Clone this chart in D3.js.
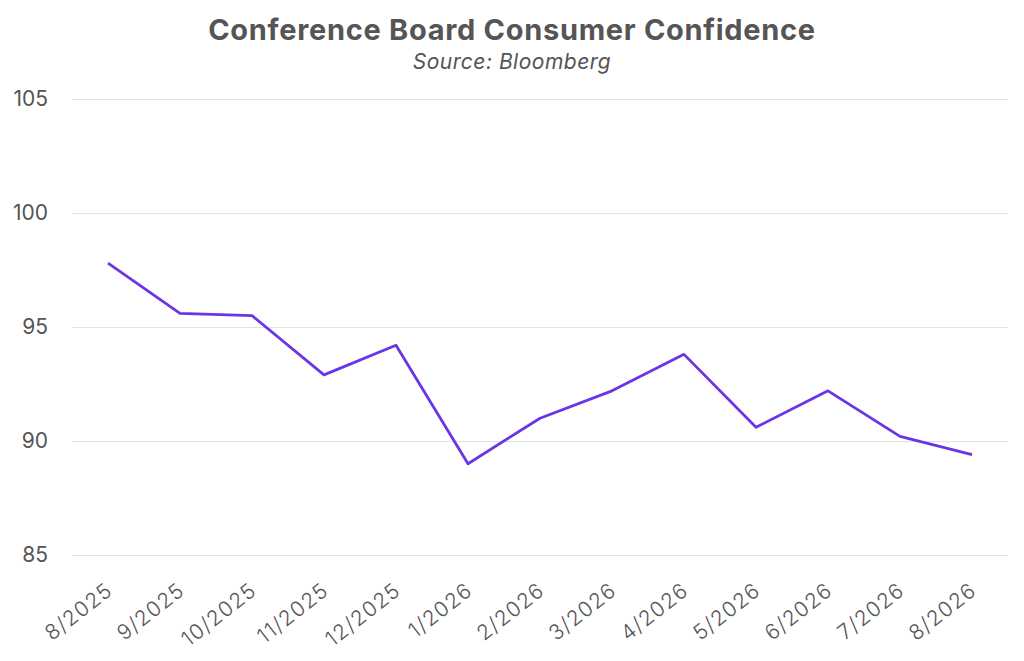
<!DOCTYPE html>
<html>
<head>
<meta charset="utf-8">
<script src="https://cdn.jsdelivr.net/npm/d3@7"></script>
<style>
  body { margin: 0; background: #fff; }
  text { font-family: "Inter", "Lato", sans-serif; fill: #555; }
</style>
</head>
<body>
<div id="chart"></div>
<script>
// Data
const months = ["8/2025", "9/2025", "10/2025", "11/2025", "12/2025", "1/2026", "2/2026",
  "3/2026", "4/2026", "5/2026", "6/2026", "7/2026", "8/2026"];
const confidence = [97.8, 95.6, 95.5, 92.9, 94.2, 89.0, 91.0, 92.2, 93.8, 90.6, 92.2, 90.2, 89.4];
const yTicks = [85, 90, 95, 100, 105];

const W = 1024, H = 661;
const margin = { top: 99, right: 16, bottom: 106, left: 72 };

const svg = d3.select("#chart")
  .append("svg")
  .attr("width", W)
  .attr("height", H);

// Title
svg.append("text")
  .attr("x", 512)
  .attr("y", 40)
  .attr("text-anchor", "middle")
  .style("font-size", "29px")
  .style("font-weight", "700")
  .style("letter-spacing", "0.7px")
  .text("Conference Board Consumer Confidence");

svg.append("text")
  .attr("x", 512)
  .attr("y", 69)
  .attr("text-anchor", "middle")
  .style("font-size", "21px")
  .style("font-style", "italic")
  .style("letter-spacing", "0.5px")
  .text("Source: Bloomberg");

// Scales
const x = d3.scaleBand()
  .domain(months)
  .range([margin.left, W - margin.right]);

const y = d3.scaleLinear()
  .domain([85, 105])
  .range([H - margin.bottom, margin.top]);

// Gridlines + y labels
const yAxis = svg.append("g")
  .attr("transform", `translate(${margin.left},0)`)
  .call(d3.axisLeft(y).tickValues(yTicks).tickSize(-(W - margin.right - margin.left)).tickPadding(24));
yAxis.select(".domain").remove();
yAxis.selectAll(".tick line").attr("stroke", "#e2e2e2").attr("stroke-width", 1.2);
yAxis.selectAll(".tick text")
  .style("font-size", "21px")
  .style("font-family", "Inter, Lato, sans-serif")
  .attr("fill", "#555");

// x labels
const xAxis = svg.append("g")
  .attr("transform", `translate(0,${H - margin.bottom})`)
  .call(d3.axisBottom(x).tickSize(0).tickPadding(0));
xAxis.select(".domain").remove();
xAxis.selectAll(".tick text")
  .style("font-size", "21px")
  .style("font-weight", "300")
  .style("letter-spacing", "1.2px")
  .style("font-family", "Inter, Lato, sans-serif")
  .attr("fill", "#555")
  .attr("text-anchor", "end")
  .attr("dy", 0)
  .attr("transform", "translate(6,38) rotate(-38)");

// Line
const line = d3.line()
  .x((d, i) => x(months[i]) + x.bandwidth() / 2)
  .y(d => y(d));

svg.append("path")
  .datum(confidence)
  .attr("fill", "none")
  .attr("stroke", "#6b35e6")
  .attr("stroke-width", 2.8)
  .attr("stroke-linejoin", "round")
  .attr("d", line);
</script>
</body>
</html>
